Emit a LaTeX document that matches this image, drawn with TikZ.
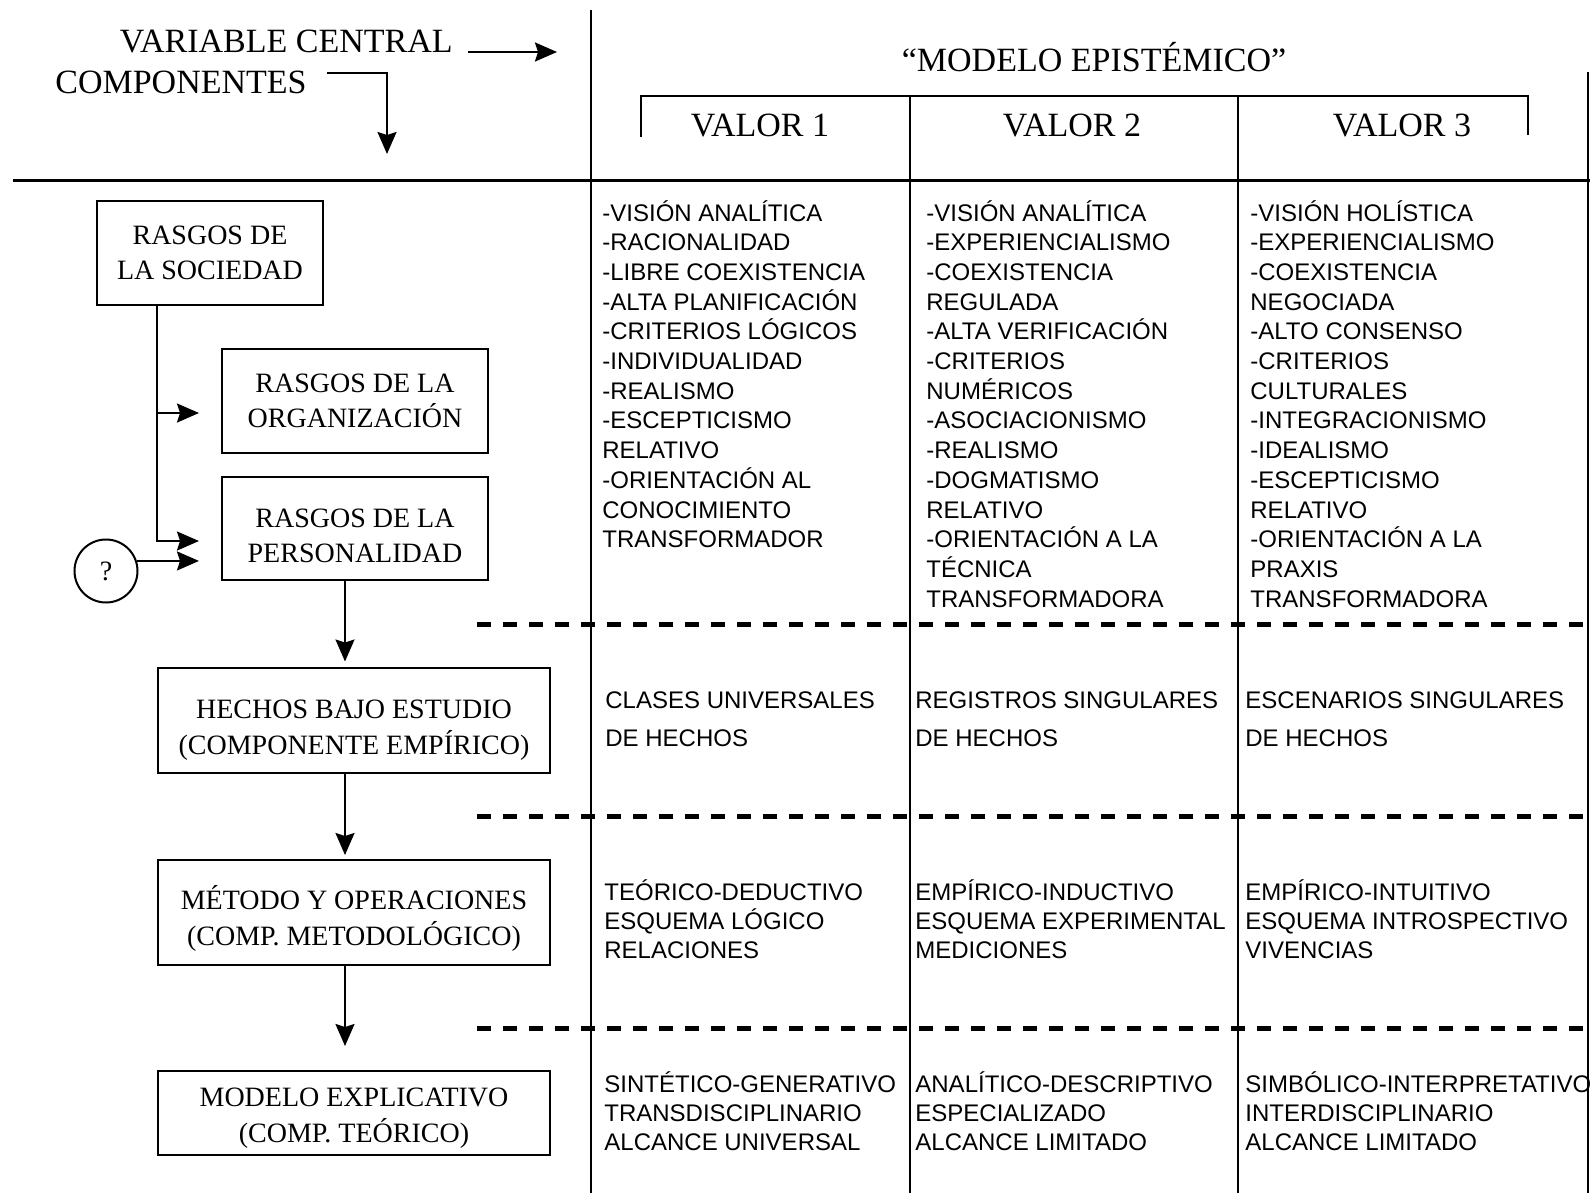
\documentclass[tikz,border=0pt]{standalone}
\usepackage{fontspec}
\setmainfont{Liberation Serif}
\newfontfamily\cellfont{Liberation Sans}
\usetikzlibrary{arrows.meta,calc}

% strut that fixes the height of the first line of every cell
\newcommand\cellstrut{\rule{0pt}{12pt}}
% strut that lowers the text of a box a little
\newcommand\boxdrop[1]{\rule{0pt}{#1}}

\begin{document}
\begin{tikzpicture}[x=0.5pt,y=-0.5pt,
  hdr/.style={inner sep=0pt, font=\fontsize{17}{20}\selectfont},
  stage/.style={draw, line width=1pt, inner sep=0pt, align=center,
    font=\fontsize{14}{17.8}\selectfont},
  wide/.style={stage, minimum width=196pt},
  cell/.style={anchor=north west, inner sep=0pt, align=left},
  traits/.style={cell, font=\cellfont\fontsize{12}{14.85}\selectfont},
  facts/.style={cell, font=\cellfont\fontsize{12}{18.75}\selectfont},
  short/.style={cell, font=\cellfont\fontsize{12}{14.6}\selectfont},
  arr/.style={line width=1pt, -{Stealth[length=11pt,width=9.5pt,inset=1.5pt]}},
  grid/.style={line width=1.2pt},
  sep/.style={line width=2.5pt, dash pattern=on 7pt off 6pt}
]
\useasboundingbox (0,0) rectangle (1590,1193);

% ---------- table frame ----------
\draw[grid] (591,10) -- (591,1193);
\draw[line width=1.5pt] (13,180) -- (1590,180);
\draw[grid] (1588,72) -- (1588,1193);
\draw[grid] (641,137) -- (641,96) -- (1528,96) -- (1528,135);
\draw[grid] (910,96) -- (910,1193);
\draw[grid] (1238,96) -- (1238,1193);

% row separators
\draw[sep] (477,624) -- (1590,624);
\draw[sep] (477,816) -- (1590,816);
\draw[sep] (477,1028) -- (1590,1028);

% ---------- headings ----------
\node[hdr, anchor=base east] (vc) at (453,53) {VARIABLE CENTRAL};
\coordinate (vcend) at (557,52);
\draw[arr] ($(vc.base east)+(15,-1)$) -- (vcend);

\node[hdr, anchor=base east] (comp) at (307,94) {COMPONENTES};
\coordinate (compend) at (387,154);
\draw[arr] ($(comp.base east)+(20,-20.5)$) -| (compend);

\node[hdr, anchor=base] (modelo-ep) at (1094,72) {“MODELO EPISTÉMICO”};
\node[hdr, anchor=base] (v1) at (760,136) {VALOR 1};
\node[hdr, anchor=base] (v2) at (1072,136) {VALOR 2};
\node[hdr, anchor=base] (v3) at (1402,136) {VALOR 3};

% ---------- component boxes ----------
\node[stage, minimum width=113pt, minimum height=52pt] (soc) at (210,253)
  {RASGOS DE\\LA SOCIEDAD};
\node[stage, minimum width=133pt, minimum height=52pt] (org) at (355,401)
  {RASGOS DE LA\\ORGANIZACIÓN};
\node[stage, minimum width=133pt, minimum height=51.5pt] (per) at (355,528.5)
  {\boxdrop{16.5pt}RASGOS DE LA\\PERSONALIDAD};
\node[wide, minimum height=52.5pt] (hechos) at (354,720.5)
  {\boxdrop{19pt}HECHOS BAJO ESTUDIO\\(COMPONENTE EMPÍRICO)};
\node[wide, minimum height=52.5pt] (metodo) at (354,912.5)
  {\boxdrop{18pt}MÉTODO Y OPERACIONES\\(COMP. METODOLÓGICO)};
\node[wide, minimum height=42pt] (modelo) at (354,1113)
  {\boxdrop{14.5pt}MODELO EXPLICATIVO\\(COMP. TEÓRICO)};

\node[circle, draw, line width=1pt, minimum size=31.5pt, inner sep=0pt,
  font=\fontsize{14}{16}\selectfont] (q) at (106,571) {?};

% ---------- connectors ----------
\coordinate (trunk) at ($(soc.south west)+(61,0)$);
\coordinate (toorg) at ($(org.west)+(-22,12)$);
\coordinate (toper) at ($(per.west)+(-22,12.5)$);
\coordinate (pin) at ($(per.west)+(-22,0)$);
\draw[arr] (trunk) |- (toper);
\draw[arr] (trunk |- toorg) -- (toorg);
\draw[arr] (q.18) -- (pin |- q.18);

\coordinate (d1) at ($(per.south)+(-10,0)$);
\coordinate (d2) at ($(hechos.south)+(-9,0)$);
\coordinate (d3) at ($(metodo.south)+(-9,0)$);
\draw[arr, shorten >=2.75pt] (d1) -- (d1 |- hechos.north);
\draw[arr, shorten >=2pt] (d2) -- (d2 |- metodo.north);
\draw[arr, shorten >=12pt] (d3) -- (d3 |- modelo.north);

% ---------- cells: societal traits ----------
\node[traits] (t1) at (602,196.6) {\cellstrut-VISIÓN ANALÍTICA\\-RACIONALIDAD\\-LIBRE COEXISTENCIA\\-ALTA PLANIFICACIÓN\\-CRITERIOS LÓGICOS\\-INDIVIDUALIDAD\\-REALISMO\\-ESCEPTICISMO\\RELATIVO\\-ORIENTACIÓN AL\\CONOCIMIENTO\\TRANSFORMADOR};
\node[traits] (t2) at (926,196.6) {\cellstrut-VISIÓN ANALÍTICA\\-EXPERIENCIALISMO\\-COEXISTENCIA\\REGULADA\\-ALTA VERIFICACIÓN\\-CRITERIOS\\NUMÉRICOS\\-ASOCIACIONISMO\\-REALISMO\\-DOGMATISMO\\RELATIVO\\-ORIENTACIÓN A LA\\TÉCNICA\\TRANSFORMADORA};
\node[traits] (t3) at (1250,196.6) {\cellstrut-VISIÓN HOLÍSTICA\\-EXPERIENCIALISMO\\-COEXISTENCIA\\NEGOCIADA\\-ALTO CONSENSO\\-CRITERIOS\\CULTURALES\\-INTEGRACIONISMO\\-IDEALISMO\\-ESCEPTICISMO\\RELATIVO\\-ORIENTACIÓN A LA\\PRAXIS\\TRANSFORMADORA};

% ---------- cells: facts ----------
\node[facts] (f1) at (605,684.3) {\cellstrut CLASES UNIVERSALES\\DE HECHOS};
\node[facts] (f2) at (915,684.3) {\cellstrut REGISTROS SINGULARES\\DE HECHOS};
\node[facts] (f3) at (1245,684.3) {\cellstrut ESCENARIOS SINGULARES\\DE HECHOS};

% ---------- cells: method ----------
\node[short] (m1) at (604,876) {\cellstrut TEÓRICO-DEDUCTIVO\\ESQUEMA LÓGICO\\RELACIONES};
\node[short] (m2) at (915,876) {\cellstrut EMPÍRICO-INDUCTIVO\\ESQUEMA EXPERIMENTAL\\MEDICIONES};
\node[short] (m3) at (1245,876) {\cellstrut EMPÍRICO-INTUITIVO\\ESQUEMA INTROSPECTIVO\\VIVENCIAS};

% ---------- cells: explanatory model ----------
\node[short] (e1) at (604,1067.6) {\cellstrut SINTÉTICO-GENERATIVO\\TRANSDISCIPLINARIO\\ALCANCE UNIVERSAL};
\node[short] (e2) at (915,1067.6) {\cellstrut ANALÍTICO-DESCRIPTIVO\\ESPECIALIZADO\\ALCANCE LIMITADO};
\node[short] (e3) at (1245,1067.6) {\cellstrut SIMBÓLICO-INTERPRETATIVO\\INTERDISCIPLINARIO\\ALCANCE LIMITADO};
\end{tikzpicture}
\end{document}
